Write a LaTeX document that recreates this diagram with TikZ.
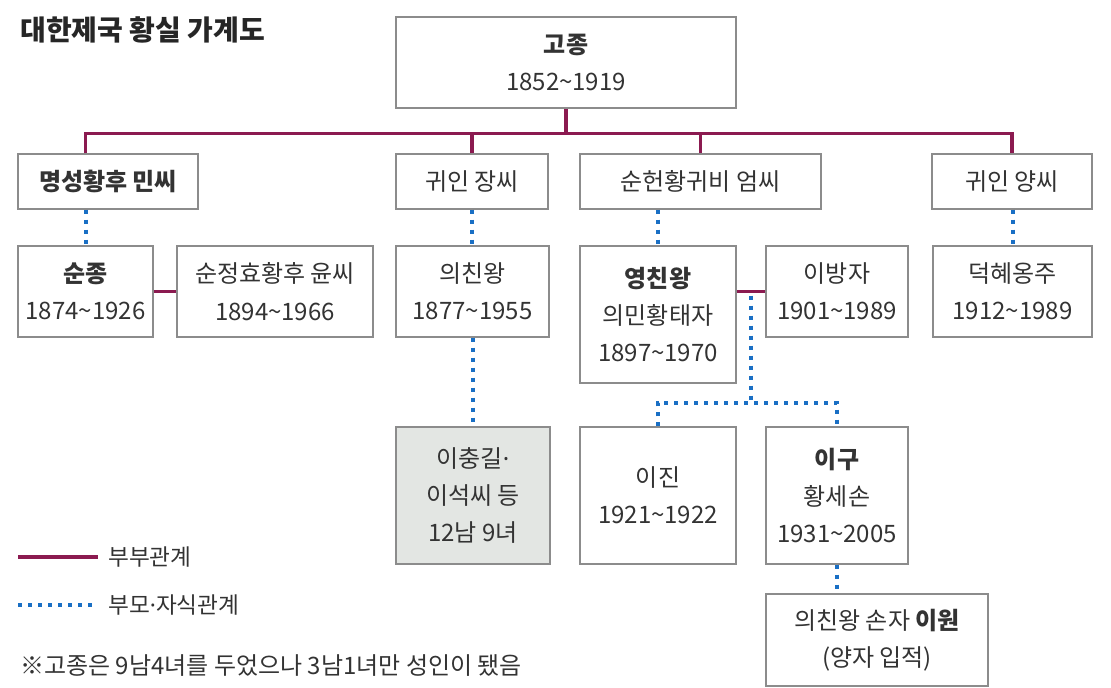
\documentclass[tikz,border=0pt]{standalone}
\usepackage{fontspec}
\setmainfont{Noto Sans CJK KR}
\newfontfamily\dotfont{Noto Sans}
\usetikzlibrary{positioning,calc}
\definecolor{royal}{HTML}{8B1A50}
\definecolor{dotblue}{HTML}{1A6FC4}
\definecolor{edge}{HTML}{8C8C8C}
\definecolor{txt}{HTML}{333333}
\definecolor{shade}{HTML}{E3E6E3}
\newcommand\bodyfont{\fontsize{18}{28}\selectfont}
\newcommand\notefont{\fontsize{17}{24}\selectfont}
\newcommand\titlefont{\fontsize{21}{26}\selectfont\bfseries}
\newcommand\mdot{{\dotfont·}}
\tikzset{box/.style={draw=edge,line width=1.1pt,fill=white,align=center,font=\bodyfont,text=txt,inner sep=0pt,minimum height=68.25pt}, row/.style={box,minimum height=41.25pt}, tall/.style={box,minimum height=102.75pt}, marry/.style={draw=royal,line width=2.5pt}, child/.style={draw=dotblue,line width=3pt,dash pattern=on 3pt off 4.5pt}}

\begin{document}
\begin{tikzpicture}[x=0.75pt,y=-0.75pt]
\useasboundingbox (0,0) rectangle (1111,688);
\node[anchor=west,inner sep=0pt,font=\titlefont,text=black!85] (title) at (20,30) {대한제국 황실 가계도};
% first generation
\node[box,minimum width=255pt] (gojong) at (566,62.5) {\textbf{고종}\\1852\textasciitilde1919};
\node[row,minimum width=135pt] (myeong) at (108,181.5) {\textbf{명성황후 민씨}};
\node[row,minimum width=114pt] (jang) at (472,181.5) {귀인 장씨};
\node[row,minimum width=180.75pt] (eom) at (700.5,181.5) {순헌황귀비 엄씨};
\node[row,minimum width=120pt] (yang) at (1012,181.5) {귀인 양씨};
% children
\node[box,minimum width=101.25pt] (sunjong) at (85.5,291.5) {\textbf{순종}\\1874\textasciitilde1926};
\node[box,minimum width=147pt] (sunjeong) at (275,291.5) {순정효황후 윤씨\\1894\textasciitilde1966};
\node[box,minimum width=114.75pt] (uichin) at (472.5,291.5) {의친왕\\1877\textasciitilde1955};
\node[tall,minimum width=117pt] (yeongchin) at (658,314.5) {\textbf{영친왕}\\의민황태자\\1897\textasciitilde1970};
\node[box,minimum width=106.5pt] (bangja) at (837,291.5) {이방자\\1901\textasciitilde1989};
\node[box,minimum width=119.25pt] (deokhye) at (1012.5,291.5) {덕혜옹주\\1912\textasciitilde1989};
% grandchildren
\node[tall,fill=shade,minimum width=115.5pt] (ichung) at (473,495.5) {이충길\mdot\\이석씨 등\\12남 9녀};
\node[tall,minimum width=117pt] (jin) at (658,495.5) {이진\\1921\textasciitilde1922};
\node[tall,minimum width=106.5pt] (gu) at (837,495.5) {\textbf{이구}\\황세손\\1931\textasciitilde2005};
\node[box,minimum width=166.5pt,minimum height=69pt] (won) at (877,640) {의친왕 손자 \textbf{이원}\\(양자 입적)};
% marriage lines
\draw[marry] (sunjong.north |- myeong.north) -- ++(0,-20) coordinate (bar) -| (yang.north);
\draw[marry] (gojong) -- (gojong |- bar);
\draw[marry] (jang) -- (jang |- bar);
\draw[marry] (eom) -- (eom |- bar);
\draw[marry] (sunjong) -- (sunjeong);
\draw[marry] (bangja.west -| yeongchin.east) -- coordinate (mid) (bangja.west);
% parent-child lines
\draw[child] (sunjong.north |- myeong.south) -- (sunjong.north);
\draw[child] (jang.south) -- (jang.south |- uichin.north);
\draw[child] (yeongchin.north |- eom.south) -- (yeongchin.north);
\draw[child] (deokhye.north |- yang.south) -- (deokhye.north);
\draw[child] (uichin.south) -- (uichin.south |- ichung.north);
\draw[child] ([yshift=-3pt]mid) -- ++(0,107) coordinate (fork);
\draw[child] (jin.north) |- (fork) -| (gu.north);
\draw[child] (gu.south) -- (gu.south |- won.north);
% legend
\coordinate (k1) at (18,557);
\coordinate (k2) at (18,605);
\node[anchor=west,inner sep=0pt,font=\notefont,text=txt] (t1) at (108,557) {부부관계};
\node[anchor=west,inner sep=0pt,font=\notefont,text=txt] (t2) at (108,605) {부모\mdot 자식관계};
\draw[marry] (k1) -- ([xshift=-7.5pt]k1 -| t1.west);
\draw[child] (k2) -- ([xshift=-7.5pt]k2 -| t2.west);
\node[anchor=west,inner sep=0pt,font=\fontsize{18}{24}\selectfont,text=txt] (note) at (20,666) {※고종은 9남4녀를 두었으나 3남1녀만 성인이 됐음};
\end{tikzpicture}
\end{document}
